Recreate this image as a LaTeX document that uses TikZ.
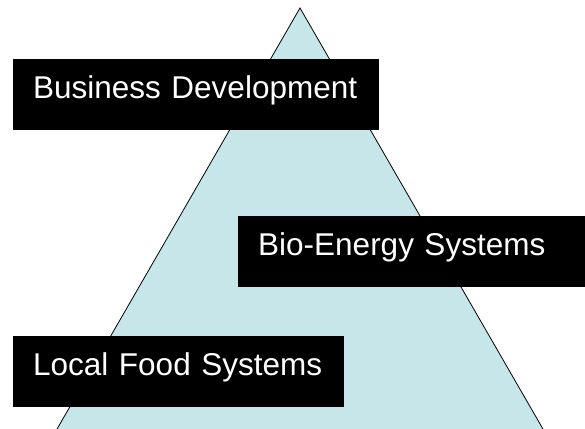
\documentclass[tikz,border=0pt]{standalone}
\usepackage{fontspec}
\setmainfont{Liberation Sans}
\usetikzlibrary{positioning,shapes}
\definecolor{pyramidblue}{RGB}{198,230,233}

\begin{document}
\begin{tikzpicture}[x = 1pt, y = -1pt,
  tierbox/.style = {fill = black, text = white, anchor = north west, align = left, inner xsep = 20pt, inner ysep = 0pt, text height = 39pt, text depth = 32pt, font = \fontsize{31.5}{38}\selectfont}]
\useasboundingbox (0,0) rectangle (585,428);
\clip (0,0) rectangle (585,428);
\coordinate (apex) at (300,8);
\coordinate (baseleft) at (53,436);
\coordinate (baseright) at (547,436);
\fill[pyramidblue] (apex) -- (baseleft) -- (baseright) -- cycle;
\draw[black, line width = 0.8pt] (baseleft) -- (apex) -- (baseright);
\node[tierbox, text width = 326pt] (business) at (13,59) {Business Development};
\node[tierbox, text width = 330pt] (bioenergy) at (238,216) {Bio-Energy Systems};
\node[tierbox, text width = 291pt] (localfood) at (13,336) {Local Food Systems};
\end{tikzpicture}
\end{document}
